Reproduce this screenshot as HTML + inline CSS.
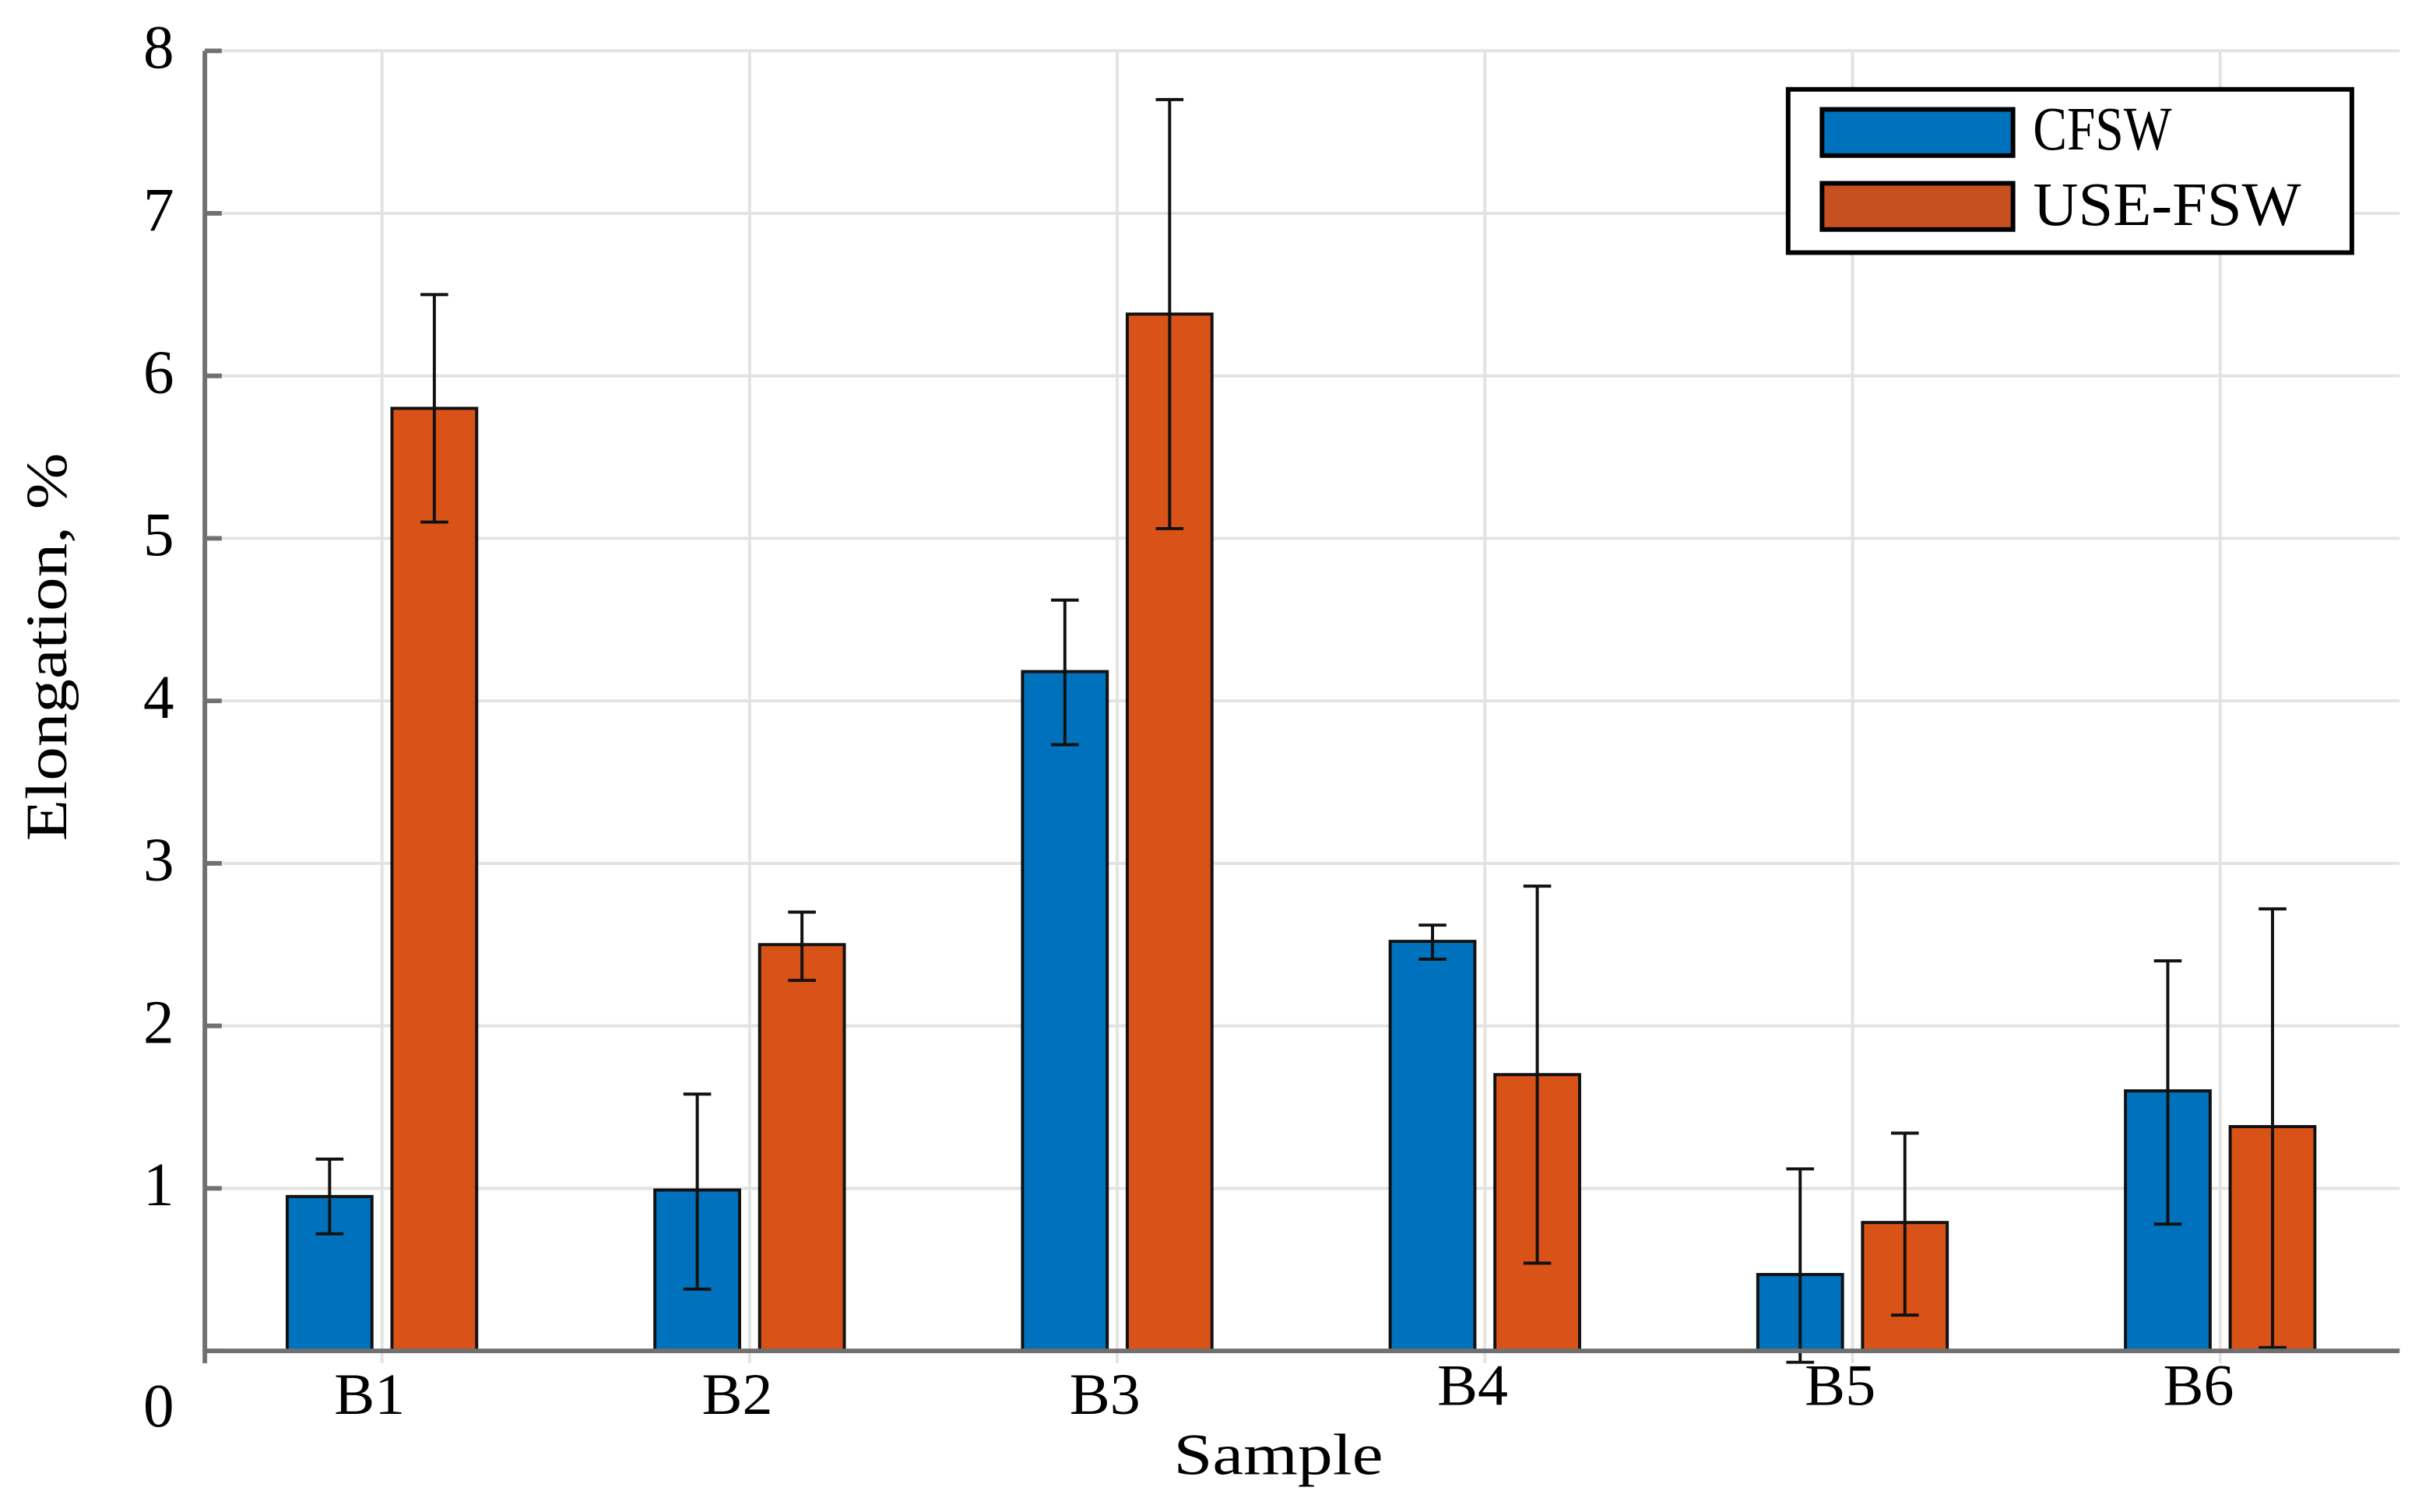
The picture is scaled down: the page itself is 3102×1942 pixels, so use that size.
<!DOCTYPE html>
<html><head><meta charset="utf-8"><style>html,body{margin:0;padding:0;background:#fff}svg{display:block}text{font-family:"Liberation Serif",serif;fill:#000}</style></head>
<body>
<svg id="chart" width="3102" height="1942" viewBox="0 0 1568 981.6" preserveAspectRatio="none" xmlns="http://www.w3.org/2000/svg">
<g id="grid"></g>
<g id="bars"></g>
<g id="axes"></g>
<text x="830" y="957" font-size="38" text-anchor="middle" textLength="136" lengthAdjust="spacingAndGlyphs">Sample</text>
<text transform="translate(43,420) rotate(-90)" font-size="38" text-anchor="middle" textLength="252" lengthAdjust="spacingAndGlyphs">Elongation, %</text>
<g>
<rect x="1161" y="58" width="366" height="106" fill="#fff" stroke="#000" stroke-width="3"/>
<rect x="1183" y="71" width="124" height="30" fill="#0072BD" stroke="#000" stroke-width="3"/>
<text x="1320" y="97" font-size="40" textLength="90" lengthAdjust="spacingAndGlyphs">CFSW</text>
<rect x="1183" y="119" width="124" height="30" fill="#C85020" stroke="#000" stroke-width="3"/>
<text x="1320" y="146" font-size="40" textLength="174" lengthAdjust="spacingAndGlyphs">USE-FSW</text>
</g>
</svg>
<script>
const categories = ["B1","B2","B3","B4","B5","B6"];
const cfswValues = [0.95, 0.99, 4.18, 2.52, 0.47, 1.60];
const cfswLow = [0.72, 0.38, 3.73, 2.41, -0.07, 0.78];
const cfswHigh = [1.18, 1.58, 4.62, 2.62, 1.12, 2.40];
const useValues = [5.80, 2.50, 6.38, 1.70, 0.79, 1.38];
const useLow = [5.10, 2.28, 5.06, 0.54, 0.22, 0.02];
const useHigh = [6.50, 2.70, 7.70, 2.86, 1.34, 2.72];
const yTicks = [0,1,2,3,4,5,6,7,8];

const NS = "http://www.w3.org/2000/svg";
const X0 = 133, X1 = 1558, Y0 = 877, Y8 = 33;
function yScale(v){ return Y0 - (Y0 - Y8) * v / 8; }
function xScale(i){ return 248 + i * 238.7; }
function mk(tag, attrs, parent){ const e = document.createElementNS(NS, tag); for (const k in attrs) e.setAttribute(k, attrs[k]); parent.appendChild(e); return e; }
const grid = document.getElementById('grid'), bars = document.getElementById('bars'), axes = document.getElementById('axes');

yTicks.forEach((t) => {
  const y = yScale(t);
  if (t > 0) {
    const g = mk('line', {x1: X0, x2: X1, y1: y, y2: y, stroke: '#e3e3e3', 'stroke-width': 2}, grid);
    
    
  }
  const tk = mk('line', {x1: X0, x2: X0 + 11, y1: y, y2: y, stroke: '#707070', 'stroke-width': 3}, axes);
  
  
  const ly = t === 0 ? 926 : y + 11;
  const lb = mk('text', {x: 113, y: ly, 'font-size': 40, 'text-anchor': 'end'}, axes);
  lb.textContent = String(t);
  
  
});

categories.forEach((c, i) => {
  const cx = xScale(i);
  const gl = mk('line', {x1: cx, x2: cx, y1: Y8, y2: 885, stroke: '#e3e3e3', 'stroke-width': 2}, grid);
  
  
  const lb = mk('text', {x: cx - 8 + (i===5? -6:0), y: i < 3 ? 918 : 912, 'font-size': 38, 'text-anchor': 'middle', textLength: 46, lengthAdjust: 'spacingAndGlyphs'}, axes);
  lb.textContent = c;
  
  
  const series = [[cfswValues, cfswLow, cfswHigh, '#0072BD', -34, 'cfsw'], [useValues, useLow, useHigh, '#D95319', 34, 'use-fsw']];
  series.forEach(([vals, lo, hi, col, off, nm]) => {
    const bx = cx + off;
    const yt = yScale(vals[i]);
    const r = mk('rect', {x: bx - 27.5, y: yt, width: 55, height: Y0 - yt, fill: col, stroke: '#111', 'stroke-width': 2}, bars);
    
    
    const yl = yScale(lo[i]), yh = yScale(hi[i]);
    const eb = mk('path', {d: `M${bx},${yl}V${yh}M${bx-9},${yh}H${bx+9}M${bx-9},${yl}H${bx+9}`, stroke: '#111', 'stroke-width': 2, fill: 'none'}, bars);
    
    
  });
});

const ya = mk('line', {x1: X0, x2: X0, y1: Y8, y2: 885, stroke: '#707070', 'stroke-width': 3}, axes);


const xa = mk('line', {x1: X0, x2: X1, y1: Y0, y2: Y0, stroke: '#707070', 'stroke-width': 3}, axes);


</script>
</body></html>
